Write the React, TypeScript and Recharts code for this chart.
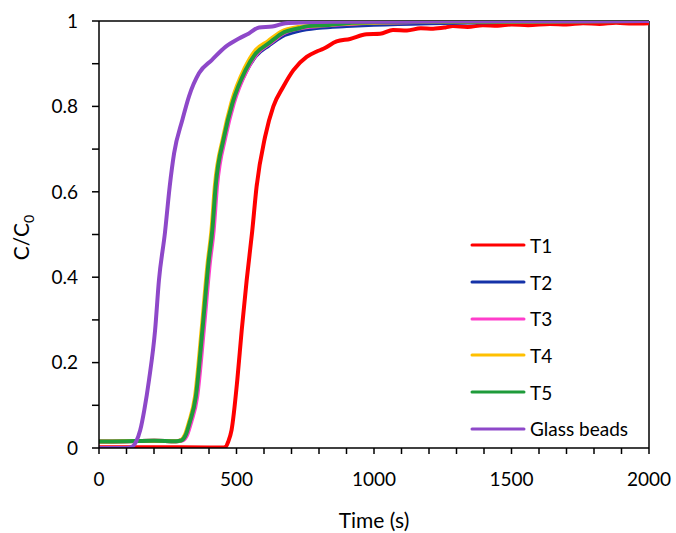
import React from "react";
import { LineChart, Line, XAxis, YAxis, ReferenceLine, Legend } from "recharts";

const xTicks = [0, 100, 200, 300, 400, 500, 600, 700, 800, 900, 1000, 1100, 1200, 1300, 1400, 1500, 1600, 1700, 1800, 1900, 2000];
const yTicks = [0, 0.1, 0.2, 0.3, 0.4, 0.5, 0.6, 0.7, 0.8, 0.9, 1];

const t1Time = [0, 200, 400, 450, 461, 470, 482, 503, 519, 537, 557, 573, 604, 634, 670, 707, 755, 790, 816, 864, 913, 973, 1022, 1069, 1120, 1170, 1215, 1260, 1287, 1340, 1396, 1450, 1500, 1560, 1640, 1700, 1760, 1820, 1880, 1940, 2000];
const t1Val = [0.002, 0.002, 0.001, 0.001, 0.003, 0.015, 0.042, 0.16, 0.276, 0.393, 0.507, 0.612, 0.729, 0.8, 0.846, 0.885, 0.916, 0.928, 0.935, 0.952, 0.958, 0.969, 0.97, 0.979, 0.978, 0.983, 0.982, 0.985, 0.988, 0.986, 0.99, 0.989, 0.992, 0.99, 0.993, 0.992, 0.995, 0.993, 0.996, 0.994, 0.995];

const t2Time = [0, 100, 200, 280, 300, 315, 330, 352, 376, 398, 412, 424, 455, 485, 533, 570, 618, 665, 727, 800, 900, 1000, 1200, 1500, 2000];
const t2Val = [0.015, 0.016, 0.017, 0.016, 0.018, 0.03, 0.06, 0.12, 0.276, 0.433, 0.51, 0.612, 0.729, 0.805, 0.88, 0.918, 0.943, 0.964, 0.977, 0.984, 0.988, 0.991, 0.995, 0.998, 1.0];

const t3Time = [0, 100, 200, 280, 305, 320, 335, 357, 381, 403, 417, 429, 460, 490, 538, 575, 623, 670, 732, 800, 900, 1000, 1200, 1500, 2000];
const t3Val = [0.015, 0.016, 0.017, 0.016, 0.018, 0.03, 0.06, 0.12, 0.276, 0.433, 0.51, 0.612, 0.729, 0.807, 0.885, 0.924, 0.948, 0.971, 0.983, 0.988, 0.993, 0.996, 0.998, 0.999, 1.0];

const t4Time = [0, 100, 200, 280, 297, 312, 327, 349, 373, 395, 409, 421, 452, 482, 530, 567, 615, 662, 724, 800, 900, 1000, 1200, 1500, 2000];
const t4Val = [0.015, 0.016, 0.017, 0.016, 0.018, 0.03, 0.06, 0.12, 0.276, 0.433, 0.51, 0.612, 0.729, 0.81, 0.89, 0.93, 0.953, 0.975, 0.986, 0.99, 0.994, 0.996, 0.998, 0.999, 1.0];

const t5Time = [0, 100, 200, 280, 300, 315, 330, 352, 376, 398, 412, 424, 455, 485, 533, 570, 618, 665, 727, 760, 820, 900, 1000, 1200, 1500, 2000];
const t5Val = [0.015, 0.016, 0.017, 0.016, 0.018, 0.03, 0.06, 0.12, 0.276, 0.433, 0.51, 0.612, 0.729, 0.807, 0.885, 0.924, 0.948, 0.971, 0.983, 0.988, 0.99, 0.995, 0.997, 0.998, 0.999, 1.0];

const gbTime = [0, 50, 100, 120, 135, 150, 165, 182, 204, 218, 240, 257, 273, 303, 327, 364, 411, 461, 509, 545, 582, 630, 679, 750, 850, 1000, 1200, 1500, 1800, 2000];
const gbVal = [0, 0, 0, 0.003, 0.015, 0.042, 0.09, 0.16, 0.276, 0.393, 0.505, 0.612, 0.69, 0.768, 0.823, 0.878, 0.909, 0.94, 0.959, 0.971, 0.985, 0.987, 0.995, 0.997, 0.998, 0.998, 0.999, 1.0, 1.0, 1.0];

const seriesNames = ["T1", "T2", "T3", "T4", "T5", "Glass beads"];
const seriesColors = ["#FF0000", "#1532A8", "#FF3DCB", "#FFC000", "#1E9B3A", "#8E48C9"];

const toData = (ts: number[], vs: number[]) => ts.map((t, i) => ({ t, v: vs[i] }));
const seriesData = [
  toData(t1Time, t1Val),
  toData(t2Time, t2Val),
  toData(t3Time, t3Val),
  toData(t4Time, t4Val),
  toData(t5Time, t5Val),
  toData(gbTime, gbVal),
];

const FONT = "Lato, 'Open Sans', sans-serif";

const LegendContent = () => (
  <div style={{ fontFamily: FONT, fontSize: 19, color: "#000" }}>
    {seriesNames.map((n, i) => (
      <div key={n} style={{ display: "flex", alignItems: "center", height: 36.7 }}>
        <svg width={56} height={6} style={{ marginRight: 4 }}>
          <line x1={2} y1={3} x2={54} y2={3} stroke={seriesColors[i]} strokeWidth={3} strokeLinecap="round" />
        </svg>
        <span>{n}</span>
      </div>
    ))}
  </div>
);

export default function App() {
  return (
    <div style={{ position: "absolute", left: 0, top: 0, width: 676, height: 533, background: "#fff" }}>
      <LineChart width={676} height={533} margin={{ top: 21, right: 27, bottom: 35, left: 39 }}>
        <XAxis
          dataKey="t"
          type="number"
          domain={[0, 2000]}
          ticks={xTicks}
          interval={0}
          allowDataOverflow
          tickFormatter={(v: number) => (v % 500 === 0 ? String(v) : "")}
          tick={{ fill: "#000", fontSize: 19, fontFamily: FONT }}
          tickSize={6}
          tickMargin={19}
          height={50}
          axisLine={{ stroke: "#000", strokeWidth: 1.5 }}
          tickLine={{ stroke: "#000", strokeWidth: 1.5 }}
          label={{
            content: (props: any) => {
              const vb = props.viewBox;
              return (
                <text x={vb.x + vb.width / 2} y={vb.y + 80} textAnchor="middle" fontSize={21} fontFamily={FONT} fill="#000">
                  Time (s)
                </text>
              );
            },
          }}
        />
        <YAxis
          type="number"
          domain={[0, 1]}
          ticks={yTicks}
          interval={0}
          allowDataOverflow
          tickFormatter={(v: number) => {
            const r = Math.round(v * 10);
            return r % 2 === 0 ? (r === 0 ? "0" : r === 10 ? "1" : (r / 10).toFixed(1)) : "";
          }}
          tick={{ fill: "#000", fontSize: 19, fontFamily: FONT }}
          tickSize={7}
          tickMargin={14}
          width={60}
          axisLine={{ stroke: "#000", strokeWidth: 1.5 }}
          tickLine={{ stroke: "#000", strokeWidth: 1.5 }}
          label={{
            content: (props: any) => {
              const vb = props.viewBox;
              const cx = 29;
              const cy = vb.y + vb.height / 2 + 3;
              return (
                <text x={cx} y={cy} transform={`rotate(-90 ${cx} ${cy})`} textAnchor="middle" fontSize={21} fontFamily={FONT} fill="#000">
                  C/C<tspan fontSize={14} dy={5}>0</tspan>
                </text>
              );
            },
          }}
        />
        <ReferenceLine y={1} stroke="#000" strokeWidth={1.5} ifOverflow="visible" />
        <ReferenceLine x={2000} stroke="#000" strokeWidth={1.5} ifOverflow="visible" />
        {seriesData.map((d, i) => (
          <Line
            key={seriesNames[i]}
            data={d}
            dataKey="v"
            name={seriesNames[i]}
            type="monotone"
            stroke={seriesColors[i]}
            strokeWidth={4}
            dot={false}
            activeDot={false}
            isAnimationActive={false}
          />
        ))}
        <Legend
          content={<LegendContent />}
          wrapperStyle={{ position: "absolute", left: 470, top: 227, width: 200, height: 0, overflow: "visible" }}
        />
      </LineChart>
    </div>
  );
}
